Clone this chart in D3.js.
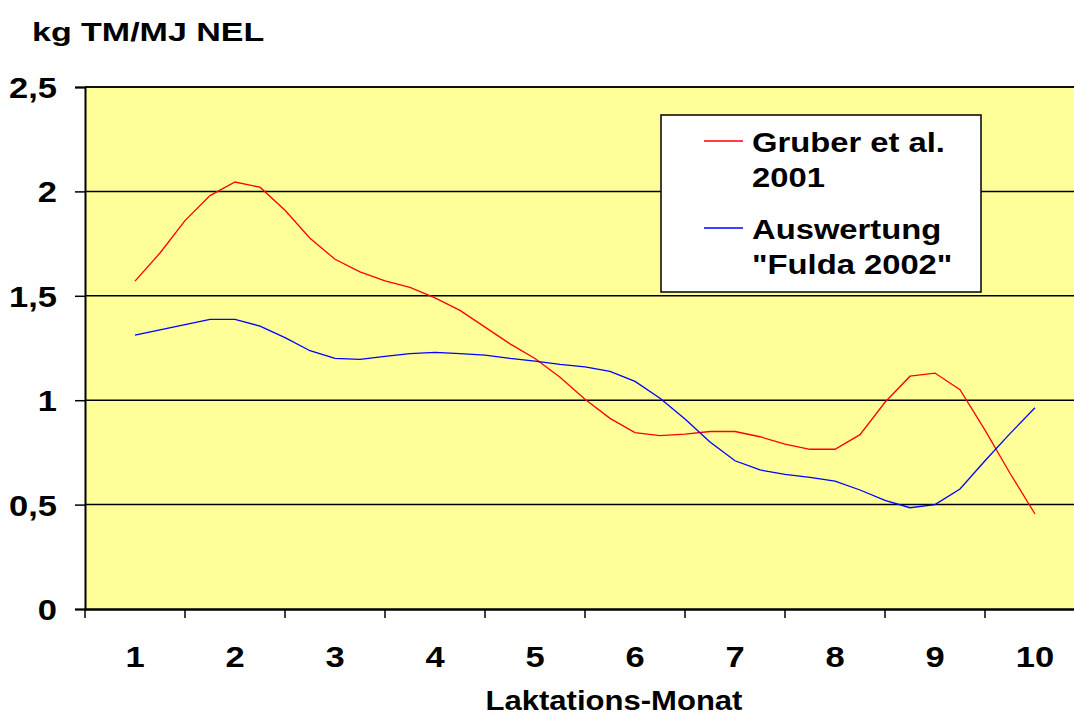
<!DOCTYPE html>
<html>
<head>
<meta charset="utf-8">
<script src="https://cdn.jsdelivr.net/npm/d3@7"></script>
<style>
  body { margin: 0; background: #fff; }
  svg { display: block; font-family: Arial, "Liberation Sans", sans-serif; font-weight: bold; }
</style>
</head>
<body>
<svg id="chart" width="1074" height="715"></svg>
<script>
// Lactation month, sampled every quarter month (1 .. 10)
const months = d3.range(37).map(i => 1 + i * 0.25);
const monthLabels = ["1", "2", "3", "4", "5", "6", "7", "8", "9", "10"];
const yTicks = [0, 0.5, 1, 1.5, 2, 2.5];

// kg TM / MJ NEL
const gruber = [1.57, 1.705, 1.86, 1.98, 2.045, 2.02, 1.91, 1.776, 1.675, 1.615,
                1.571, 1.54, 1.49, 1.43, 1.35, 1.27, 1.20, 1.11, 1.005, 0.913,
                0.845, 0.83, 0.838, 0.85, 0.85, 0.825, 0.79, 0.765, 0.765, 0.835,
                0.99, 1.115, 1.13, 1.05, 0.857, 0.65, 0.455];
const fulda = [1.312, 1.337, 1.362, 1.387, 1.387, 1.355, 1.30, 1.237, 1.20, 1.196,
               1.21, 1.223, 1.229, 1.223, 1.216, 1.20, 1.187, 1.172, 1.16, 1.138,
               1.09, 1.009, 0.91, 0.80, 0.71, 0.666, 0.645, 0.63, 0.612, 0.57,
               0.52, 0.485, 0.50, 0.575, 0.71, 0.84, 0.964];

const series = [
  { name: ["Gruber et al.", "2001"], color: "#ff0000", values: gruber },
  { name: ["Auswertung", "\"Fulda 2002\""], color: "#0000ff", values: fulda }
];

const svg = d3.select("#chart");
const plot = { left: 85, right: 1085, top: 87, bottom: 609 };

// the source rendering has wide lettering, so text is stretched a bit
function label(parent, x, y, txt, size, anchor, sx) {
  return parent.append("text")
    .attr("transform", `translate(${x},${y}) scale(${sx},1)`)
    .attr("text-anchor", anchor)
    .attr("font-size", size)
    .attr("fill", "#000")
    .text(txt);
}

// band per month, lines run from centre of month 1 to centre of month 10
const xBand = d3.scaleBand().domain(monthLabels).range([plot.left, plot.right]);
const x = d3.scaleLinear().domain([1, 10])
  .range([xBand("1") + xBand.bandwidth() / 2, xBand("10") + xBand.bandwidth() / 2]);
const y = d3.scaleLinear().domain([0, 2.5]).range([plot.bottom, plot.top]);

// plot background
svg.append("rect")
  .attr("x", plot.left).attr("y", plot.top)
  .attr("width", plot.right - plot.left).attr("height", plot.bottom - plot.top)
  .attr("fill", "#ffff99");

// horizontal gridlines
svg.append("g")
  .selectAll("line")
  .data(yTicks.filter(d => d > 0))
  .join("line")
  .attr("x1", plot.left).attr("x2", plot.right)
  .attr("y1", d => y(d)).attr("y2", d => y(d))
  .attr("stroke", "#000").attr("stroke-width", 1.5);

// y axis
const yAxis = svg.append("g")
  .attr("transform", `translate(${plot.left},0)`)
  .call(d3.axisLeft(y).tickValues(yTicks).tickSize(10).tickFormat(""));
yAxis.select(".domain").attr("stroke", "#000").attr("stroke-width", 2);
yAxis.selectAll(".tick line").attr("stroke", "#000").attr("stroke-width", 1.5);

const yLabels = svg.append("g");
yTicks.forEach(t => {
  label(yLabels, 57, y(t) + 11, String(t).replace(".", ","), 30, "end", 1.15);
});

// x axis: ticks between months
const xAxis = svg.append("g")
  .attr("transform", `translate(0,${plot.bottom})`)
  .call(d3.axisBottom(xBand).tickSize(0).tickFormat(""));
xAxis.select(".domain").attr("stroke", "#000").attr("stroke-width", 2.5);
svg.append("g")
  .selectAll("line")
  .data(monthLabels)
  .join("line")
  .attr("x1", d => xBand(d)).attr("x2", d => xBand(d))
  .attr("y1", plot.bottom).attr("y2", plot.bottom + 9)
  .attr("stroke", "#000").attr("stroke-width", 1.5);

const xLabels = svg.append("g");
monthLabels.forEach(m => {
  label(xLabels, xBand(m) + xBand.bandwidth() / 2, 667, m, 30, "middle", 1.15);
});

// top border
svg.append("line")
  .attr("x1", plot.left).attr("x2", plot.right)
  .attr("y1", plot.top).attr("y2", plot.top)
  .attr("stroke", "#000").attr("stroke-width", 1.5);

// series lines
const line = d3.line()
  .x((d, i) => x(months[i]))
  .y(d => y(d));

svg.append("g")
  .selectAll("path")
  .data(series)
  .join("path")
  .attr("d", d => line(d.values))
  .attr("fill", "none")
  .attr("stroke", d => d.color)
  .attr("stroke-width", 1.3);

// axis titles
label(svg, 32, 41, "kg TM/MJ NEL", 25, "start", 1.36);
label(svg, 614, 710, "Laktations-Monat", 27, "middle", 1.15);

// legend
const legend = svg.append("g").attr("transform", "translate(661,115)");
legend.append("rect")
  .attr("width", 320).attr("height", 177)
  .attr("fill", "#fff").attr("stroke", "#000").attr("stroke-width", 1.5);

series.forEach((s, i) => {
  const top = 26 + i * 87;
  legend.append("line")
    .attr("x1", 43).attr("x2", 82)
    .attr("y1", top).attr("y2", top)
    .attr("stroke", s.color).attr("stroke-width", 1.3);
  s.name.forEach((t, j) => {
    label(legend, 91, top + 11 + j * 35, t, 28, "start", 1.17);
  });
});
</script>
</body>
</html>
